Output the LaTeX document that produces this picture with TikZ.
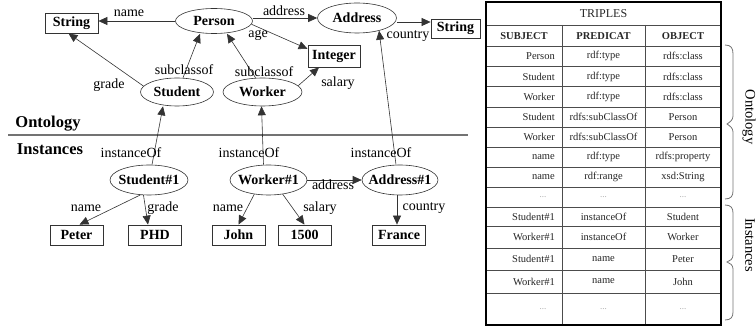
\documentclass[tikz,border=0pt]{standalone}
\usepackage{fontspec}
\setmainfont{Liberation Serif}
\usetikzlibrary{shapes.geometric,arrows.meta}
\newcommand\mbx[1]{\makebox[0pt]{#1}}
\begin{document}
\begin{tikzpicture}[x=1pt,y=-1pt,
  cls/.style={draw=black!80, line width=0.6pt, ellipse, inner sep=0pt, font=\bfseries\fontsize{14}{16}\selectfont},
  lit/.style={draw=black!80, line width=0.8pt, rectangle, inner sep=0pt, minimum width=53pt, minimum height=20pt, font=\bfseries\fontsize{14}{16}\selectfont},
  lbl/.style={inner sep=0pt, font=\fontsize{14}{16}\selectfont},
  sect/.style={inner sep=0pt, font=\bfseries\fontsize{16.5}{18}\selectfont},
  arr/.style={draw=black!80, line width=0.6pt, -{Triangle[length=9pt,width=8pt]}},
  tcell/.style={inner sep=0pt, text=black!85, font=\fontsize{10.5}{12}\selectfont},
  thead/.style={inner sep=0pt, text=black!85, font=\bfseries\fontsize{10.5}{12}\selectfont},
  tdots/.style={inner sep=0pt, text=black!35, font=\fontsize{9}{10}\selectfont},
  grid/.style={draw=black!70, line width=0.8pt},
  brc/.style={draw=black!55, line width=0.8pt},
  side/.style={inner sep=0pt, rotate=-90, font=\fontsize{14.5}{16}\selectfont}
]
\useasboundingbox (0,0) rectangle (756,331);

% ---------- Ontology ----------
\node[lit] (strL) at (71.5,23) {String};
\node[cls, minimum width=77pt, minimum height=25pt] (person) at (214,21) {\mbx{Person}};
\node[cls, minimum width=79pt, minimum height=30pt] (addr) at (357,18) {\mbx{Address}};
\node[lit, minimum width=49pt, minimum height=19pt] (strR) at (455.5,28.5) {String};
\node[lit, minimum width=52pt, minimum height=22pt] (int) at (334,56) {Integer};
\node[cls, minimum width=73pt, minimum height=28pt] (student) at (177,92) {\mbx{Student}};
\node[cls, minimum width=79pt, minimum height=28pt] (worker) at (262.5,92) {\mbx{Worker}};

\draw[arr] (person.west) -- (strL.east |- person.west);
\draw[arr] (person.east |- addr.west) -- (addr.west);
\draw[arr] (person.-5) -- (int.165);
\draw[arr] ([yshift=-4pt]addr.east) -- ([yshift=-4pt]addr.east -| strR.west);
\draw[arr] (student.170) -- ([xshift=-3pt]strL.south);
\draw[arr] ([xshift=6pt]student.north) -- ([xshift=-14pt]person.south);
\draw[arr] ([xshift=-7pt]worker.north) -- ([xshift=13pt]person.south);
\draw[arr] (worker.10) -- ([xshift=-15pt]int.south);

\node[lbl] (l1) at (129,13) {name};
\node[lbl] (l2) at (284,11) {address};
\node[lbl] (l3) at (258,35) {age};
\node[lbl] (l4) at (408,36) {country};
\node[lbl] (l5) at (184,70) {subclassof};
\node[lbl] (l6) at (264,72) {subclassof};
\node[lbl] (l7) at (109,85) {grade};
\node[lbl] (l8) at (338,83) {salary};

% ---------- separator ----------
\node[sect] (ont) at (48,124) {Ontology};
\node[sect] (inst) at (50,149) {Instances};
\coordinate (sepL) at (8,135);
\coordinate (sepR) at (468,135);
\draw[black!55, line width=1.3pt] (sepL) -- (sepR);

% ---------- Instances ----------
\node[cls, minimum width=78pt, minimum height=30pt] (s1) at (149,180) {\mbx{Student\#1}};
\node[cls, minimum width=77pt, minimum height=30pt] (w1) at (268.5,180) {\mbx{Worker\#1}};
\node[cls, minimum width=76pt, minimum height=30pt] (a1) at (400,180) {\mbx{Address\#1}};
\node[lit] (peter) at (76.5,235) {Peter};
\node[lit] (phd) at (155,235) {PHD};
\node[lit] (john) at (238.5,235) {John};
\node[lit] (n1500) at (304.5,235) {1500};
\node[lit] (france) at (399,235) {France};

\draw[arr] ([xshift=3pt]s1.north) -- ([xshift=-14pt]student.south);
\draw[arr] ([xshift=-5pt]w1.north) -- ([xshift=-1pt]worker.south);
\draw[arr] ([xshift=-4pt]a1.north) -- (addr.330);
\draw[arr] (s1.240) -- ([xshift=3pt]peter.north);
\draw[arr] (s1.250) -- ([xshift=-7pt]phd.north);
\draw[arr] (w1.225) -- (john.north);
\draw[arr] (w1.315) -- (n1500.north);
\draw[arr] (w1.east) -- (a1.west);
\draw[arr] ([xshift=-3pt]a1.south) -- ([xshift=-3pt]a1.south |- france.north);

\node[lbl] (i1) at (131,153) {instanceOf};
\node[lbl] (i2) at (249,153) {instanceOf};
\node[lbl] (i3) at (381,153) {instanceOf};
\node[lbl] (b1) at (86,208) {name};
\node[lbl] (b2) at (163,208) {grade};
\node[lbl] (b3) at (228,208) {name};
\node[lbl] (b4) at (320,208) {salary};
\node[lbl] (b5) at (333,185) {address};
\node[lbl] (b6) at (424,208) {country};

% ---------- Table ----------
\foreach \yy in {25,46,66,86.5,107,127,147,167,187.5,207,226,248,270,293}
  \draw[grid] (486,\yy) -- (721,\yy);
\draw[grid] (562,25) -- (562,325);
\draw[grid] (645,25) -- (645,325);
\draw[line width=2.5pt] (486,2) rectangle (721,325);

\node[tcell, font=\fontsize{12}{14}\selectfont] (ttitle) at (603.5,14) {TRIPLES};
\node[thead] (h1) at (524,36) {SUBJECT};
\node[thead] (h2) at (603.5,36) {PREDICAT};
\node[thead] (h3) at (683,36) {OBJECT};

\foreach \yc/\a/\b/\c [count=\i] in {
  56/Person/rdf:type/rdfs:class,
  76.5/Student/rdf:type/rdfs:class,
  97/Worker/rdf:type/rdfs:class,
  117/Student/rdfs:subClassOf/Person,
  137/Worker/rdfs:subClassOf/Person,
  157/name/rdf:type/rdfs:property,
  177/name/rdf:range/xsd:String,
  216.5/Student\#1/instanceOf/Student,
  237/Worker\#1/instanceOf/Worker,
  259/Student\#1/name/Peter,
  281.5/Worker\#1/name/John}
{
  \node[tcell, anchor=east] (ts\i) at (555,\yc) {\a};
  \node[tcell] (tp\i) at (603.5,\yc) {\b};
  \node[tcell] (to\i) at (683,\yc) {\c};
}
\node[tdots] (d1) at (543,197) {...};
\node[tdots] (d2) at (603.5,197) {...};
\node[tdots] (d3) at (683,197) {...};
\node[tdots] (d4) at (543,309) {...};
\node[tdots] (d5) at (603.5,309) {...};
\node[tdots] (d6) at (683,309) {...};

% ---------- braces ----------
\draw[brc] (725,45) .. controls (731,45) and (733,48) .. (733,54) -- (733,116)
  .. controls (733,120) and (730,122) .. (727,124)
  .. controls (730,126) and (733,128) .. (733,132) -- (733,191)
  .. controls (733,196) and (731,199) .. (725,199);
\draw[brc] (725,205) .. controls (731,205) and (733,208) .. (733,213) -- (733,255)
  .. controls (733,259) and (730,261) .. (727,262)
  .. controls (730,263) and (733,265) .. (733,269) -- (733,312)
  .. controls (733,317) and (731,320) .. (725,320);
\node[side] (ontside) at (749,117) {Ontology};
\node[side] (instside) at (750,245) {Instances};
\end{tikzpicture}
\end{document}
